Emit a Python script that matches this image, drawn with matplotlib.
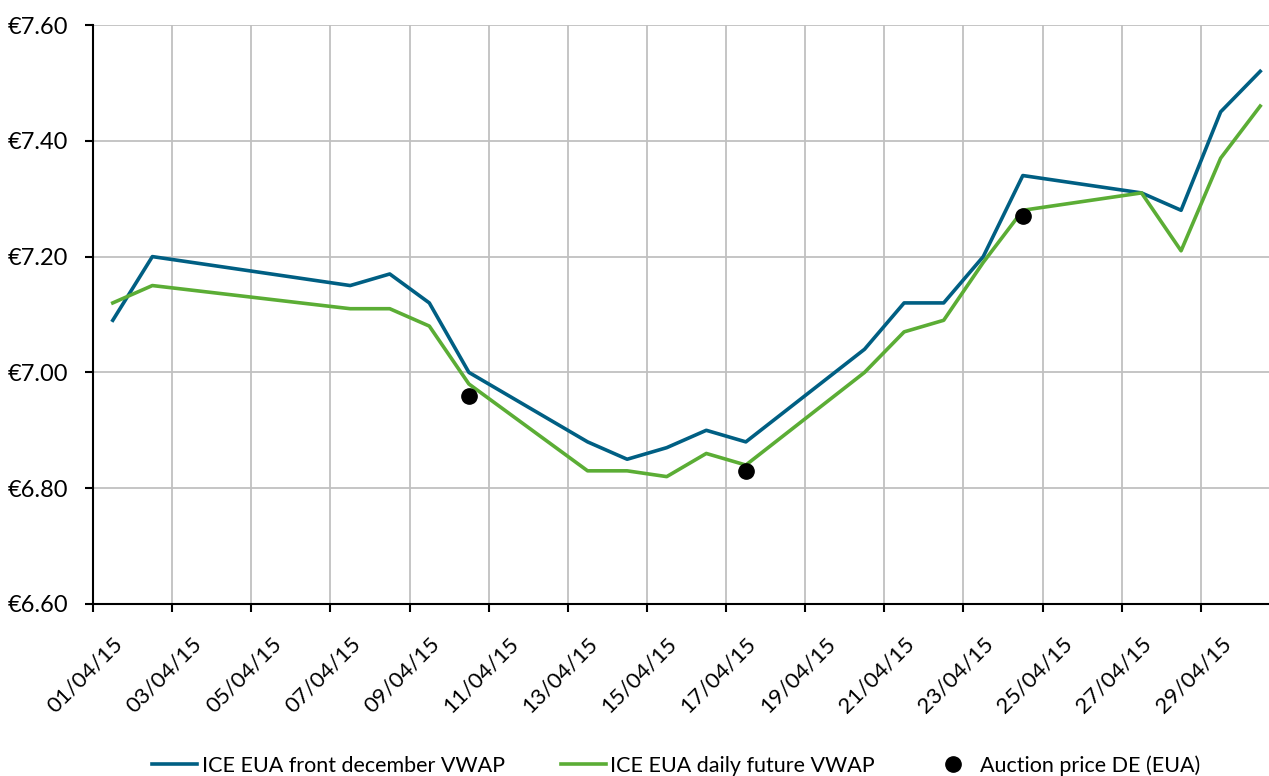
import matplotlib.pyplot as plt
import numpy as np

plt.rcParams['font.family'] = ['Lato', 'DejaVu Sans']

# trading days (day of april 2015)
days = [1, 2, 7, 8, 9, 10, 13, 14, 15, 16, 17, 20, 21, 22, 23, 24, 27, 28, 29, 30]
front_dec = [7.09, 7.20, 7.15, 7.17, 7.12, 7.00, 6.88, 6.85, 6.87, 6.90, 6.88,
             7.04, 7.12, 7.12, 7.20, 7.34, 7.31, 7.28, 7.45, 7.52]
daily_fut = [7.12, 7.15, 7.11, 7.11, 7.08, 6.98, 6.83, 6.83, 6.82, 6.86, 6.84,
             7.00, 7.07, 7.09, 7.19, 7.28, 7.31, 7.21, 7.37, 7.46]
auction_days = [10, 17, 24]
auction = [6.96, 6.83, 7.27]

labels = ["%02d/04/15" % d for d in range(1, 31, 2)]
yticks = [6.6, 6.8, 7.0, 7.2, 7.4, 7.6]

blue = "#005f83"
green = "#5bad35"

fig = plt.figure(figsize=(12.69, 7.76), dpi=100)
ax = fig.add_axes([93/1269, 1-604/776, (1280-93)/1269, (604-25)/776])

x1 = np.array(days) - 1
xa = np.array(auction_days) - 1
ax.plot(x1, front_dec, color=blue, lw=2.6, label="ICE EUA front december VWAP", zorder=3)
ax.plot(x1, daily_fut, color=green, lw=2.6, label="ICE EUA daily future VWAP", zorder=3)
ax.plot(xa, auction, 'o', color="black", ms=11, label="Auction price DE (EUA)", zorder=4)

ax.set_xlim(-0.5, 29.5)
ax.set_ylim(6.6, 7.6)
ax.set_xticks(np.arange(-0.5, 29, 2))
ax.set_xticklabels([])
ax.set_xticks(np.arange(0, 30, 2), minor=True)
ax.set_xticklabels(labels, minor=True, rotation=45, ha='right', rotation_mode='anchor', fontsize=16)
ax.tick_params(axis='x', which='minor', length=0, pad=21)
ax.tick_params(axis='x', which='major', length=6, width=1.5, direction='out')
ax.set_yticks(yticks)
ax.set_yticklabels(["€%.2f" % v for v in yticks], fontsize=17)
ax.tick_params(axis='y', length=6, width=1.5, direction='out', pad=12)
ax.grid(True, which='major', color="#c0c0c0", lw=1.3)
ax.set_axisbelow(True)
for s in ['top', 'right']:
    ax.spines[s].set_visible(False)
for s in ['left', 'bottom']:
    ax.spines[s].set_linewidth(1.5)

fig.legend(loc='lower center', bbox_to_anchor=(0.533, -0.025), ncol=3, frameon=False,
           fontsize=15.5, columnspacing=2.6, handlelength=2.1, handletextpad=0.2)

fig.savefig("out.png", dpi=100)
